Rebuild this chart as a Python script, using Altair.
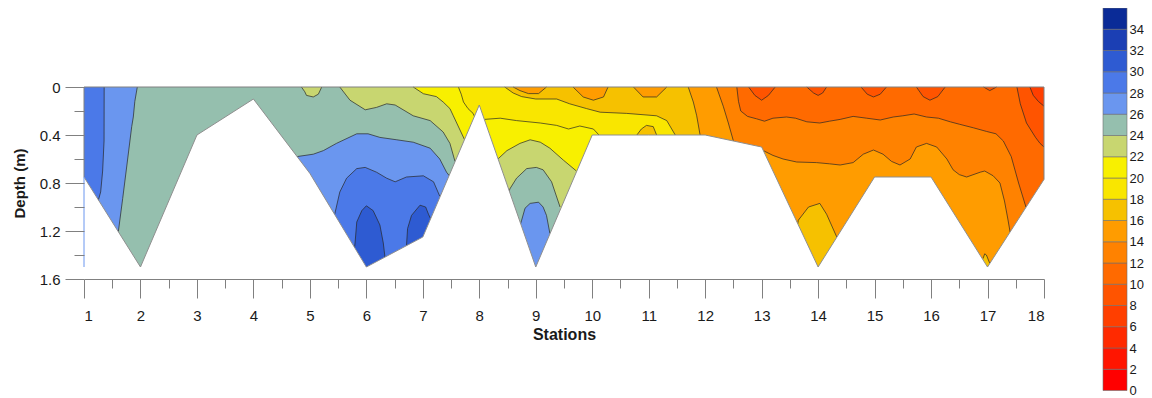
import altair as alt
import pandas as pd

# ---------------- data ----------------
STATIONS = list(range(1, 19))
BOTTOM_DEPTH = [0.75, 1.5, 0.4, 0.1, 0.72, 1.5, 1.25, 0.15, 1.5,
                0.4, 0.4, 0.4, 0.5, 1.5, 0.75, 0.75, 1.5, 0.77]
MAX_DEPTH = 1.6

BAND_LOWER = list(range(0, 36, 2))
BAND_COLORS = ["#ff0000", "#ff1500", "#ff2a00", "#ff3f00", "#ff5400", "#ff6a00",
               "#ff8200", "#ff9c00", "#f6c100", "#f9e600", "#f8f000", "#c8d670",
               "#95bfae", "#6a96ef", "#4b79e8", "#2e5bd2", "#1b3fb4", "#0a2b97"]

# contour curves (station, depth): region >= level lies below ("below") or above ("above") the curve
C06 = [(1, 0.0), (18, 0.0)]
C08 = [(1, 0.0), (17.75, 0.0), (17.81, 0.07), (17.9, 0.12), (18, 0.16)]
C10 = [(1, 0.0), (12.77, 0.0), (12.88, 0.07), (13.0, 0.11), (13.12, 0.07), (13.24, 0.0),
       (13.8, 0.0), (13.92, 0.05), (14.0, 0.07), (14.08, 0.05), (14.15, 0.0),
       (14.76, 0.0), (14.87, 0.06), (14.98, 0.083), (15.1, 0.06), (15.21, 0.0),
       (15.74, 0.0), (15.86, 0.08), (15.98, 0.11), (16.12, 0.08), (16.25, 0.0),
       (16.93, 0.0), (17.04, 0.03), (17.16, 0.0),
       (17.52, 0.0), (17.58, 0.14), (17.69, 0.30), (17.85, 0.42), (17.93, 0.47), (18, 0.5)]
C12 = [(1, 0.0), (12.56, 0.0), (12.59, 0.12), (12.63, 0.2), (12.75, 0.245), (12.91, 0.265),
       (13.05, 0.285), (13.2, 0.26), (13.44, 0.25), (13.6, 0.26), (13.8, 0.29), (14.03, 0.30),
       (14.2, 0.285), (14.39, 0.27), (14.62, 0.245), (14.86, 0.26), (15.1, 0.275), (15.33, 0.25),
       (15.5, 0.24), (15.7, 0.225), (15.92, 0.25), (16.13, 0.26), (16.34, 0.29), (16.5, 0.31),
       (16.75, 0.34), (16.98, 0.37), (17.15, 0.39), (17.28, 0.45), (17.42, 0.58), (17.55, 0.8),
       (17.68, 1.0)]
C14_A = [(1, 0.0), (12.2, 0.0), (12.32, 0.16), (12.41, 0.30), (12.5, 0.45)]
C14_B = [(13.03, 0.53), (13.2, 0.57), (13.38, 0.6), (13.62, 0.625), (13.97, 0.63), (14.2, 0.64),
         (14.39, 0.65), (14.62, 0.63), (14.8, 0.56), (14.98, 0.525), (15.15, 0.56), (15.3, 0.62),
         (15.45, 0.65), (15.63, 0.6), (15.74, 0.5), (15.92, 0.47), (16.1, 0.5), (16.28, 0.6),
         (16.39, 0.69), (16.5, 0.73), (16.63, 0.75), (16.87, 0.71), (16.95, 0.7), (17.1, 0.74),
         (17.22, 0.8), (17.3, 0.95), (17.36, 1.1), (17.4, 1.21)]
C16_A = [(1, 0.0), (8.6, 0.0), (8.72, 0.03), (8.87, 0.055), (9.05, 0.055), (9.19, 0.0),
         (9.66, 0.0), (9.84, 0.083), (10.02, 0.11), (10.2, 0.083), (10.28, 0.0),
         (10.73, 0.0), (10.9, 0.083), (11.14, 0.083), (11.32, 0.0),
         (11.7, 0.0), (11.79, 0.125), (11.85, 0.24), (11.91, 0.40)]
C16_B = [(13.64, 1.14), (13.65, 1.11), (13.83, 1.0), (14.03, 0.97), (14.15, 1.06), (14.33, 1.25)]
C16_C = [(16.92, 1.43), (16.95, 1.39), (16.98, 1.40), (17.04, 1.47)]
C18 = [(1, 0.0), (8.45, 0.0), (8.6, 0.05), (8.75, 0.08), (9.0, 0.1), (9.37, 0.1), (9.6, 0.14),
       (9.9, 0.18), (10.14, 0.21), (10.61, 0.22), (11.14, 0.24), (11.32, 0.28), (11.47, 0.40)]
C20_A = [(1, 0.0), (7.63, 0.0), (7.68, 0.06), (7.72, 0.125), (7.8, 0.18), (7.89, 0.22), (7.93, 0.26)]
C20_B = [(8.09, 0.27), (8.37, 0.26), (8.66, 0.28), (9.08, 0.30), (9.37, 0.32), (9.58, 0.35),
         (9.78, 0.325), (10.02, 0.35), (10.12, 0.4)]
C22_A = [(1, 0.0), (6.83, 0.0), (7.01, 0.056), (7.24, 0.08), (7.36, 0.125), (7.48, 0.18),
         (7.54, 0.24), (7.65, 0.35), (7.74, 0.44)]
C22_B = [(8.33, 0.6), (8.49, 0.53), (8.72, 0.47), (8.9, 0.44), (9.08, 0.46), (9.25, 0.51),
         (9.49, 0.61), (9.72, 0.70)]
C24_A = [(1, 0.0), (4.85, 0.0), (4.91, 0.04), (4.94, 0.07), (5.06, 0.083), (5.15, 0.06),
         (5.21, 0.0), (5.53, 0.0), (5.71, 0.11), (5.98, 0.19), (6.18, 0.17), (6.36, 0.14),
         (6.51, 0.15), (6.83, 0.24), (7.13, 0.28), (7.36, 0.375), (7.48, 0.47), (7.57, 0.62)]
C24_B = [(8.53, 0.87), (8.54, 0.85), (8.66, 0.76), (8.84, 0.68), (9.01, 0.67), (9.13, 0.69),
         (9.28, 0.79), (9.43, 1.0)]
C26_L = [(1, 1.6), (1.607, 1.21), (1.685, 0.93), (1.76, 0.65), (1.845, 0.33), (1.873, 0.25),
         (1.90, 0.12), (1.944, 0.0)]
C26_A = [(4.77, 0.58), (5.06, 0.56), (5.24, 0.53), (5.47, 0.47), (5.83, 0.39), (6.03, 0.39),
         (6.24, 0.42), (6.54, 0.44), (6.83, 0.46), (7.13, 0.51), (7.30, 0.60), (7.42, 0.71),
         (7.47, 0.74)]
C26_B = [(8.73, 1.14), (8.75, 1.11), (8.81, 1.01), (8.90, 0.97), (9.05, 0.96), (9.13, 1.0),
         (9.19, 1.07), (9.25, 1.22)]
C28_L = [(1, 1.6), (1.25, 0.95), (1.295, 0.875), (1.33, 0.7), (1.355, 0.45), (1.357, 0.0)]
C28_A = [(5.44, 1.06), (5.53, 0.875), (5.65, 0.76), (5.83, 0.68), (5.98, 0.67), (6.18, 0.71),
         (6.36, 0.76), (6.51, 0.79), (6.71, 0.75), (7.01, 0.74), (7.19, 0.79), (7.30, 0.91)]
C30_A = [(5.79, 1.34), (5.80, 1.30), (5.83, 1.125), (5.92, 1.03), (6.0, 0.99), (6.12, 1.03),
         (6.24, 1.15), (6.30, 1.3), (6.33, 1.42)]
C30_B = [(6.71, 1.33), (6.73, 1.18), (6.8, 1.07), (6.95, 0.985), (7.05, 1.0), (7.1, 1.06),
         (7.14, 1.1)]
# lower-value patch lying inside a higher band (station 11 bottom)
P16 = [(10.78, 1.6), (10.79, 0.4), (10.87, 0.35), (10.96, 0.32), (11.08, 0.33), (11.14, 0.40),
       (11.15, 1.6)]

REGIONS = [
    (6, "below", C06), (8, "below", C08), (10, "below", C10), (12, "below", C12),
    (14, "below", C14_A), (14, "below", C14_B),
    (16, "below", C16_A), (16, "below", C16_B), (16, "below", C16_C),
    (18, "below", C18), (20, "below", C20_A), (20, "below", C20_B),
    (22, "below", C22_A), (22, "below", C22_B), (24, "below", C24_A), (24, "below", C24_B),
    (26, "above", C26_L), (26, "below", C26_A), (26, "below", C26_B),
    (28, "above", C28_L), (28, "below", C28_A),
    (30, "below", C30_A), (30, "below", C30_B),
]
PATCHES = [(16, "below", P16)]

# ---------------- build tables ----------------
def area_rows(level, kind, pts, seg):
    rows = []
    for x, d in pts:
        top, bot = (d, MAX_DEPTH) if kind == "below" else (0.0, d)
        rows.append({"seg": seg, "val": level + 1, "x": x, "top": top, "bot": bot})
    return rows


def contour_runs(pts):
    n = len(pts)
    inside = [0 < d < MAX_DEPTH for _, d in pts]
    keep = [inside[i] or (pts[i][1] == 0 and ((i > 0 and inside[i - 1]) or (i < n - 1 and inside[i + 1])))
            for i in range(n)]
    runs, cur = [], []
    for i in range(n):
        if keep[i]:
            if cur and pts[i][1] == 0 and cur[-1][1] == 0:
                runs.append(cur)
                cur = []
            cur.append(pts[i])
        else:
            if cur:
                runs.append(cur)
            cur = []
    if cur:
        runs.append(cur)
    return [r for r in runs if len(r) > 1]


FONT = "Liberation Sans"


def xs():
    return alt.Scale(domain=[1, 18], nice=False, zero=False)


def ys():
    return alt.Scale(domain=[0, MAX_DEPTH], reverse=True, nice=False, zero=False)


cscale = alt.Scale(type="quantize", domain=[0, 36], range=BAND_COLORS, nice=False, zero=False)

XTICKS = [1 + 0.5 * i for i in range(35)]
YTICKS = [round(0.2 * i, 1) for i in range(9)]

x_axis = alt.Axis(values=XTICKS, format=".1~f",
                  labelExpr="datum.value % 1 === 0 ? datum.label : ''",
                  tickSize={"condition": {"test": "datum.value % 1 === 0", "value": 19}, "value": 9},
                  labelPadding=10, title="Stations", titleFontWeight="bold", titleFontSize=16,
                  titlePadding=3, grid=False, domain=True, zindex=1, orient="bottom")
y_axis = alt.Axis(values=YTICKS, format=".1~f",
                  labelExpr="round(datum.value * 10) % 4 === 0 ? datum.label : ''",
                  tickSize={"condition": {"test": "round(datum.value * 10) % 4 === 0", "value": 19}, "value": 10},
                  labelPadding=5, title="Depth (m)", titleFontWeight="bold", titleFontSize=15,
                  titlePadding=12, grid=False, domain=False, zindex=1, orient="left")

layers = []
levels = sorted(set(r[0] for r in REGIONS))
seg_id = 0
line_rows = []
run_id = 0
first = True
for lvl in levels + ["patch"]:
    rows = []
    regs = [r for r in REGIONS if r[0] == lvl] if lvl != "patch" else PATCHES
    for level, kind, pts in regs:
        rows += area_rows(level, kind, pts, seg_id)
        seg_id += 1
        for run in contour_runs(pts):
            for x, d in run:
                line_rows.append({"run": run_id, "x": x, "d": d})
            run_id += 1
    layer = alt.Chart(pd.DataFrame(rows)).mark_area(orient="vertical", interpolate="linear").encode(
        x=alt.X("x:Q", scale=xs(), axis=x_axis if first else None),
        y=alt.Y("top:Q", scale=ys(), axis=y_axis if first else None),
        y2="bot:Q",
        color=alt.Color("val:Q", scale=cscale, legend=None),
        detail="seg:N",
    )
    first = False
    layers.append(layer)

lines = alt.Chart(pd.DataFrame(line_rows)).mark_line(color="#262626", strokeWidth=0.7).encode(
    x=alt.X("x:Q", scale=xs(), axis=None),
    y=alt.Y("d:Q", scale=ys(), axis=None),
    detail="run:N",
)

bathy_df = pd.DataFrame({"station": STATIONS, "bottom": BOTTOM_DEPTH})
bathy = alt.Chart(bathy_df).mark_area(color="white", opacity=1, orient="vertical").encode(
    x=alt.X("station:Q", scale=xs(), axis=None),
    y=alt.Y("bottom:Q", scale=ys(), axis=None),
    y2=alt.Y2Datum(MAX_DEPTH),
)
bathy_edge = alt.Chart(bathy_df).mark_line(color="#8f8f8f", strokeWidth=1).encode(
    x=alt.X("station:Q", scale=xs(), axis=None),
    y=alt.Y("bottom:Q", scale=ys(), axis=None),
)

frame_df = pd.DataFrame({
    "x": [STATIONS[0], STATIONS[0], STATIONS[-1]],
    "x2": [STATIONS[-1], STATIONS[0], STATIONS[-1]],
    "y": [0.0, 0.0, 0.0],
    "y2": [0.0, BOTTOM_DEPTH[0], BOTTOM_DEPTH[-1]],
})
frame = alt.Chart(frame_df).mark_rule(color="#808080", strokeWidth=1).encode(
    x=alt.X("x:Q", scale=xs(), axis=None), x2="x2:Q",
    y=alt.Y("y:Q", scale=ys(), axis=None), y2="y2:Q",
)
sliver_df = pd.DataFrame({"x": [STATIONS[0]], "y": [BOTTOM_DEPTH[0]], "y2": [BOTTOM_DEPTH[1]]})
sliver = alt.Chart(sliver_df).mark_rule(color="#6a96ef", strokeWidth=1).encode(
    x=alt.X("x:Q", scale=xs(), axis=None),
    y=alt.Y("y:Q", scale=ys(), axis=None), y2="y2:Q",
)

cb_df = pd.DataFrame({"lo": BAND_LOWER, "hi": [b + 2 for b in BAND_LOWER], "val": [b + 1 for b in BAND_LOWER]})
colorbar = alt.Chart(cb_df).mark_rect(stroke="#6e6e6e", strokeWidth=0.6).encode(
    x=alt.XDatum(0, scale=alt.Scale(domain=[0, 1], range=[1019, 1043]), axis=None),
    x2=alt.X2Datum(1),
    y=alt.Y("lo:Q", scale=alt.Scale(domain=[0, 36], range=[303.5, -79], nice=False, zero=False),
            axis=alt.Axis(orient="right", offset=83, values=BAND_LOWER, ticks=False, tickSize=0,
                          domain=False, grid=False, labelPadding=2, labelFontSize=13, title=None)),
    y2="hi:Q",
    color=alt.Color("val:Q", scale=cscale, legend=None),
)

chart = alt.layer(*layers, lines, bathy, bathy_edge, frame, sliver, colorbar).resolve_scale(
    x="independent", y="independent"
).properties(
    width=960, height=192,
    padding={"left": 76, "top": 79, "right": 100, "bottom": 119},
    autosize=alt.AutoSizeParams(type="none"),
).configure_view(stroke=None).configure_axis(
    labelFont=FONT, titleFont=FONT, labelFontSize=15, labelColor="#1a1a1a", titleColor="#1a1a1a",
    domainColor="#808080", tickColor="#808080", tickWidth=1, domainWidth=1,
)

chart.save("out.html", embed_options={"renderer": "svg", "actions": False})
